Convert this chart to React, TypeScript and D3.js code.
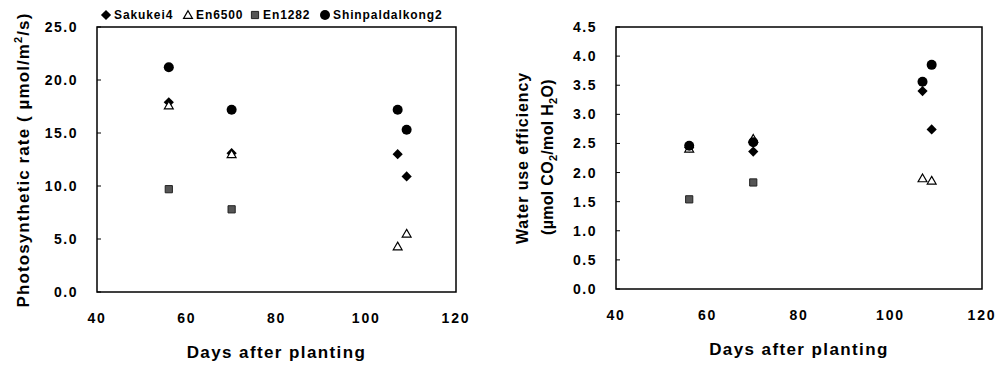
import React from 'react';
import * as d3 from 'd3';

// sampling days (x values)
const days = [56, 70, 107, 109];

// photosynthetic rate (umol/m2/s)
const sakukei4Photo = [17.9, 13.1, 13.0, 10.9];
const en6500Photo = [17.6, 13.0, 4.3, 5.5];
const en1282Photo = [9.7, 7.8, null, null];
const shinPhoto = [21.2, 17.2, 17.2, 15.3];

// water use efficiency (umol CO2/mol H2O)
const sakukei4Wue = [2.43, 2.36, 3.4, 2.74];
const en6500Wue = [2.41, 2.58, 1.9, 1.86];
const en1282Wue = [1.54, 1.83, null, null];
const shinWue = [2.46, 2.52, 3.56, 3.85];

const seriesNames = ['Sakukei4', 'En6500', 'En1282', 'Shinpaldalkong2'];
const xTicks = [40, 60, 80, 100, 120];
const photoTicks = [0, 5, 10, 15, 20, 25];
const wueTicks = [0, 0.5, 1, 1.5, 2, 2.5, 3, 3.5, 4, 4.5];

const FONT = 'Arial, "Liberation Sans", sans-serif';

const Marker = ({ kind, x, y }: { kind: number; x: number; y: number }) => {
  if (kind === 0) {
    const p = d3.symbol(d3.symbolSquare, 52)();
    return <path d={p || ''} transform={`translate(${x},${y}) rotate(45)`} fill="#000" />;
  }
  if (kind === 1) {
    const p = d3.symbol(d3.symbolTriangle, 34)();
    return <path d={p || ''} transform={`translate(${x},${y + 0.8})`} fill="#fff" stroke="#000" strokeWidth={1.2} />;
  }
  if (kind === 2) {
    const p = d3.symbol(d3.symbolSquare, 52)();
    return <path d={p || ''} transform={`translate(${x},${y})`} fill="#555" stroke="#222" strokeWidth={1} />;
  }
  return <circle cx={x} cy={y} r={5} fill="#000" />;
};

type PanelProps = {
  left: number;
  right: number;
  top: number;
  bottom: number;
  yMax: number;
  yTicks: number[];
  series: (number | null)[][];
  fmt: (v: number) => string;
};

const Panel = ({ left, right, top, bottom, yMax, yTicks, series, fmt }: PanelProps) => {
  const x = d3.scaleLinear().domain([40, 120]).range([left, right]);
  const y = d3.scaleLinear().domain([0, yMax]).range([bottom, top]);
  return (
    <g>
      <rect x={left} y={top} width={right - left} height={bottom - top} fill="none" stroke="#000" strokeWidth={1.5} />
      {yTicks.map(t => (
        <g key={t}>
          <line x1={left} x2={left + 4} y1={y(t)} y2={y(t)} stroke="#000" strokeWidth={1} />
          <text x={left - 19} y={y(t)} dy="0.36em" textAnchor="end" fontSize={14} fontWeight="bold" letterSpacing={1.5} fontFamily={FONT}>
            {fmt(t)}
          </text>
        </g>
      ))}
      {xTicks.map(t => (
        <text key={t} x={x(t)} y={bottom + 31} textAnchor="middle" fontSize={14} fontWeight="bold" letterSpacing={1.8} fontFamily={FONT}>
          {t}
        </text>
      ))}
      <text x={(left + right) / 2} y={bottom + 66} textAnchor="middle" fontSize={17} fontWeight="bold" letterSpacing={1.4} fontFamily={FONT}>
        Days after planting
      </text>
      {series.map((vals, s) =>
        vals.map((v, i) =>
          v == null ? null : <Marker key={`${s}-${i}`} kind={s} x={x(days[i])} y={y(v)} />
        )
      )}
    </g>
  );
};

const App = () => {
  const legendX = [106, 188, 255, 325];
  return (
    <svg width={1000} height={365} style={{ position: 'absolute', left: 0, top: 0, background: '#fff' }}>
      {/* legend */}
      {seriesNames.map((n, i) => (
        <g key={n}>
          <Marker kind={i} x={legendX[i]} y={15} />
          <text x={legendX[i] + 8} y={15} dy="0.36em" fontSize={12} fontWeight="bold" letterSpacing={0.9} fontFamily={FONT}>
            {n}
          </text>
        </g>
      ))}

      <Panel
        left={97}
        right={456}
        top={27}
        bottom={292}
        yMax={25}
        yTicks={photoTicks}
        series={[sakukei4Photo, en6500Photo, en1282Photo, shinPhoto]}
        fmt={d3.format('.1f')}
      />
      <text
        transform="translate(29,160) rotate(-90)"
        textAnchor="middle"
        fontSize={17}
        fontWeight="bold"
        letterSpacing={1.1}
        fontFamily={FONT}
      >
        Photosynthetic rate ( µmol/m<tspan dy={-7} fontSize={11}>2</tspan>
        <tspan dy={7}>/s)</tspan>
      </text>

      <Panel
        left={616}
        right={982}
        top={27}
        bottom={289}
        yMax={4.5}
        yTicks={wueTicks}
        series={[sakukei4Wue, en6500Wue, en1282Wue, shinWue]}
        fmt={d3.format('.1f')}
      />
      <text transform="translate(528,158) rotate(-90)" textAnchor="middle" fontSize={16} fontWeight="bold" letterSpacing={0.9} fontFamily={FONT}>
        Water use efficiency
      </text>
      <text transform="translate(553,157) rotate(-90)" textAnchor="middle" fontSize={16} fontWeight="bold" letterSpacing={0.3} fontFamily={FONT}>
        (µmol CO<tspan dy={4} fontSize={11}>2</tspan>
        <tspan dy={-4}>/mol H</tspan>
        <tspan dy={4} fontSize={11}>2</tspan>
        <tspan dy={-4}>O)</tspan>
      </text>
    </svg>
  );
};

export default App;
